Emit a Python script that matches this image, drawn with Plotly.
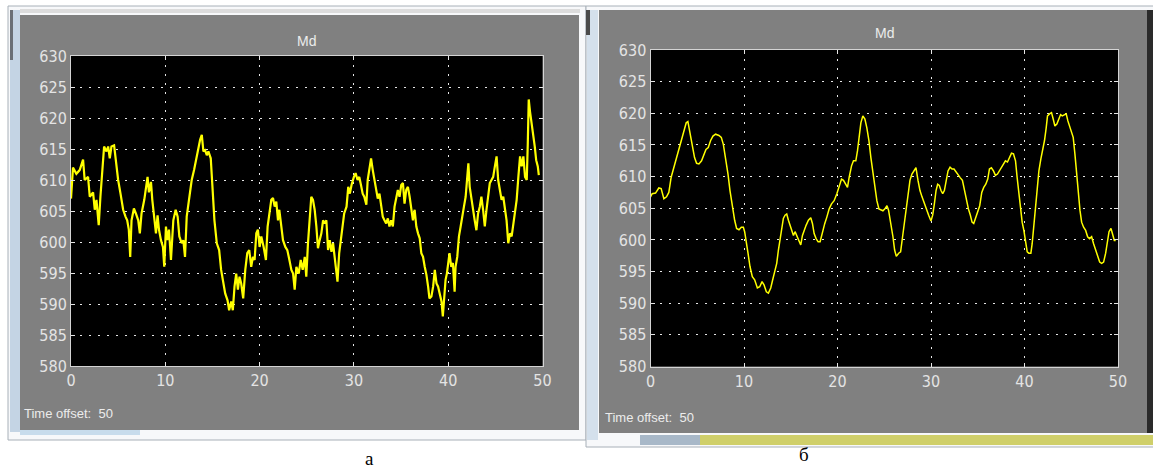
import plotly.graph_objects as go

W, H = 1153, 470

# ---------------- data ----------------
a_time = [
    0, 0.21, 0.57, 0.92, 1.28, 1.45, 1.81, 1.99, 2.34, 2.52,
    2.70, 2.94, 3.12, 3.33, 3.51, 3.76, 3.94, 4.11, 4.29, 4.57,
    4.75, 5.0, 5.25, 5.53, 5.78, 5.96, 6.13, 6.28, 6.42, 6.67,
    6.88, 7.13, 7.30, 7.48, 7.77, 8.01, 8.12, 8.26, 8.48, 8.62,
    8.83, 9.01, 9.18, 9.33, 9.54, 9.75, 9.89, 10.07, 10.21, 10.39,
    10.60, 10.85, 11.10, 11.31, 11.49, 11.74, 11.91, 12.09, 12.27, 12.52,
    12.80, 13.05, 13.26, 13.51, 13.69, 13.87, 14.04, 14.22, 14.40, 14.57,
    14.82, 15.0, 15.21, 15.46, 15.71, 15.92, 16.17, 16.35, 16.60, 16.77,
    16.99, 17.16, 17.34, 17.52, 17.70, 17.87, 18.05, 18.26, 18.48, 18.69,
    18.90, 19.11, 19.29, 19.47, 19.65, 19.82, 20.0, 20.18, 20.43, 20.67,
    20.85, 21.06, 21.24, 21.42, 21.60, 21.77, 21.95, 22.09, 22.27, 22.48,
    22.73, 22.94, 23.16, 23.37, 23.55, 23.72, 23.90, 24.15, 24.36, 24.57,
    24.79, 24.95, 25.13, 25.30, 25.48, 25.66, 25.84, 26.02, 26.19, 26.37,
    26.55, 26.73, 26.90, 27.08, 27.26, 27.44, 27.62, 27.79, 27.97, 28.15,
    28.26, 28.44, 28.61, 28.76, 28.97, 29.22, 29.40, 29.57, 29.75, 30.0,
    30.18, 30.39, 30.57, 30.75, 30.93, 31.10, 31.32, 31.46, 31.64, 31.82,
    32.0, 32.17, 32.35, 32.53, 32.71, 32.88, 33.06, 33.24, 33.42, 33.60,
    33.77, 33.95, 34.13, 34.31, 34.49, 34.66, 34.84, 35.02, 35.20, 35.37,
    35.55, 35.73, 35.91, 36.09, 36.26, 36.44, 36.62, 36.80, 36.98, 37.15,
    37.33, 37.51, 37.69, 37.87, 38.01, 38.22, 38.40, 38.58, 38.76, 38.93,
    39.11, 39.29, 39.43, 39.57, 39.72, 39.86, 40.0, 40.14, 40.32, 40.50,
    40.68, 40.78, 40.96, 41.14, 41.32, 41.50, 41.67, 41.85, 42.03, 42.14,
    42.28, 42.46, 42.63, 42.81, 42.99, 43.17, 43.35, 43.52, 43.70, 43.88,
    44.06, 44.24, 44.41, 44.59, 44.77, 44.95, 45.13, 45.30, 45.48, 45.66,
    45.84, 46.02, 46.19, 46.37, 46.55, 46.73, 46.90, 47.08, 47.26, 47.44,
    47.62, 47.79, 47.97, 48.15, 48.33, 48.44, 48.54, 48.68, 48.83, 49.0,
    49.18, 49.33, 49.50, 49.61,
]
a_value = [
    607, 612, 611, 611.6, 613.3, 610, 610.5, 607.3, 608, 605.2,
    606.8, 602.7, 607.3, 611.6, 615.4, 614.6, 615.4, 613.5, 615.4, 615.6,
    613, 610, 607.8, 605.2, 604.1, 603.5, 602, 597.6, 603.5, 605.4,
    604.6, 603.5, 601.4, 604.6, 606.8, 610, 610.5, 608, 609.7, 606.8,
    603.5, 601.4, 604.3, 602, 600.3, 599.2, 596, 602.5, 600.3, 602,
    597.1, 603.5, 605.2, 604.1, 600.9, 599.8, 600.3, 597.6, 604.1, 606.8,
    610, 611.6, 613.2, 615.4, 616.5, 617.3, 614.6, 614.8, 614, 614.6,
    613.5, 608.9, 603.5, 599.8, 598.7, 595.5, 593.3, 591.7, 590.6, 589,
    590.4, 589, 592.8, 594.9, 592.3, 594.4, 593.3, 590.9, 595.5, 598.2,
    598.7, 596, 597.6, 597.1, 601.4, 602, 599.2, 600.9, 599.2, 597.1,
    602.5, 604.6, 606.8, 607.1, 605.7, 606.5, 603.5, 605.2, 602.5, 600.3,
    599.2, 598.7, 597.1, 595.5, 594.9, 592.3, 596, 594.9, 597.1, 595.5,
    597.6, 594.4, 599.8, 603.5, 607.3, 606.8, 605.2, 602.5, 599, 600.3,
    601.4, 603.5, 603, 603.5, 598.7, 600.3, 598.4, 599.8, 597.6, 594.9,
    593.6, 598.2, 600.3, 601.4, 604.6, 605.7, 608.9, 607.8, 609.2, 610.5,
    611.1, 610, 610.5, 609.2, 607.8, 607.3, 606, 610, 611.6, 613.5,
    611.6, 610, 608.9, 607, 607.8, 605.7, 604.1, 603.5, 603, 603.8,
    602.5, 603.5, 602.5, 605.7, 607.3, 608.4, 607.3, 609.2, 609.5, 606.2,
    608.4, 608.9, 607.3, 605.2, 603.5, 605.2, 602.5, 601.4, 600.6, 598.2,
    597.6, 596, 594.7, 592.8, 590.9, 591.2, 592.8, 595.5, 593.3, 592.8,
    591.7, 590.4, 588, 590.6, 593.9, 594.9, 597.1, 598.2, 596, 596.6,
    592, 596, 597.6, 600.9, 602.5, 604.6, 605.7, 607.3, 610, 612.7,
    608.9, 606.8, 605.7, 603.5, 601.9, 604.6, 605.7, 607.3, 605.2, 602.5,
    605.2, 607.3, 609.5, 610, 610.5, 612.2, 613.8, 610, 608.4, 606.8,
    607.3, 605.2, 603.5, 599.8, 601.4, 600.9, 603, 605.2, 606.8, 610.5,
    613.8, 612.2, 613.8, 610.5, 610, 615.9, 623, 621, 619.5, 617.5,
    615.4, 613.2, 612.2, 610.8,
]

b_time = [
    0, 0.18, 0.54, 0.89, 1.14, 1.43, 1.71, 1.96, 2.21, 2.5,
    2.79, 3.04, 3.29, 3.57, 3.82, 4.0, 4.18, 4.46, 4.71, 4.93,
    5.18, 5.46, 5.71, 5.93, 6.18, 6.43, 6.68, 6.96, 7.32, 7.57,
    7.79, 8.04, 8.29, 8.5, 8.75, 9.0, 9.21, 9.46, 9.71, 9.93,
    10.07, 10.25, 10.43, 10.64, 10.89, 11.14, 11.43, 11.68, 11.93, 12.14,
    12.39, 12.61, 12.86, 13.07, 13.29, 13.5, 13.68, 13.82, 14.0, 14.21,
    14.39, 14.57, 14.75, 14.93, 15.11, 15.29, 15.46, 15.64, 15.82, 16.07,
    16.25, 16.43, 16.64, 16.89, 17.14, 17.32, 17.5, 17.71, 17.93, 18.14,
    18.39, 18.64, 18.86, 19.11, 19.36, 19.64, 19.93, 20.18, 20.43, 20.64,
    20.89, 21.07, 21.25, 21.5, 21.71, 21.96, 22.14, 22.32, 22.5, 22.71,
    22.93, 23.14, 23.36, 23.57, 23.79, 24.0, 24.21, 24.43, 24.64, 24.86,
    25.07, 25.29, 25.46, 25.71, 25.93, 26.11, 26.29, 26.54, 26.75, 26.96,
    27.14, 27.32, 27.54, 27.75, 27.96, 28.18, 28.39, 28.61, 28.82, 29.04,
    29.29, 29.5, 29.75, 30.0, 30.18, 30.36, 30.54, 30.71, 30.89, 31.07,
    31.25, 31.43, 31.64, 31.82, 32.04, 32.25, 32.46, 32.68, 32.89, 33.14,
    33.36, 33.57, 33.79, 34.0, 34.21, 34.39, 34.57, 34.79, 35.0, 35.21,
    35.43, 35.64, 35.86, 36.07, 36.25, 36.46, 36.68, 36.89, 37.11, 37.32,
    37.54, 37.75, 37.96, 38.18, 38.39, 38.61, 38.82, 39.04, 39.21, 39.39,
    39.57, 39.75, 39.93, 40.11, 40.29, 40.46, 40.68, 40.82, 41.0, 41.18,
    41.36, 41.54, 41.75, 41.96, 42.14, 42.32, 42.46, 42.68, 42.89, 43.07,
    43.25, 43.46, 43.68, 43.86, 44.04, 44.25, 44.46, 44.64, 44.86, 45.04,
    45.21, 45.39, 45.57, 45.75, 45.93, 46.11, 46.32, 46.54, 46.75, 46.96,
    47.18, 47.39, 47.61, 47.82, 48.04, 48.25, 48.46, 48.68, 48.86, 49.04,
    49.25, 49.39, 49.61, 49.75,
]
b_value = [
    606.8, 607.3, 607.4, 608.2, 608.1, 606.5, 606.8, 607.5, 609.9, 611.5,
    613, 614.3, 615.7, 617.2, 618.5, 618.7, 617.2, 614.9, 613, 612.1,
    612, 612.5, 613.6, 614.3, 614.6, 615.7, 616.4, 616.7, 616.5, 616.2,
    615.1, 613, 610.4, 607.8, 605.2, 603.1, 601.8, 601.6, 602, 602,
    601.3, 599.9, 597.9, 595.8, 594.2, 593.7, 592.4, 592.6, 593.4, 592.9,
    591.8, 591.6, 592.4, 593.7, 595.2, 596.3, 598.4, 599.9, 602, 603.4,
    603.9, 604.1, 603.1, 602.3, 601.3, 600.7, 601.3, 600.7, 600.2, 599.2,
    600.7, 601.5, 602.3, 603.1, 603.5, 602.6, 601, 600.2, 599.7, 599.7,
    601.3, 602.6, 603.6, 604.9, 605.7, 606.2, 607.3, 608.6, 609.6, 609.4,
    608.6, 608.3, 609.9, 611.7, 612.5, 612.5, 614.1, 616.7, 618.5, 619.6,
    619.1, 617.7, 615.7, 613, 610.9, 608.6, 606.2, 604.9, 604.7, 604.6,
    604.9, 605.4, 604.7, 602.6, 600.5, 598.4, 597.4, 597.9, 598.1, 600.5,
    602.6, 605.2, 607.8, 609.4, 610.4, 610.9, 611.4, 609.4, 607.8, 606.8,
    605.7, 604.7, 603.9, 603, 603.9, 605.7, 607.8, 608.8, 608.6, 607.8,
    607.3, 607.8, 609.4, 610.9, 611.5, 611.2, 611.2, 610.7, 610.2, 609.8,
    609.4, 607.8, 606.2, 604.9, 603.9, 602.8, 602.6, 603.6, 604.4, 605.4,
    607.5, 608.3, 608.8, 609.6, 611.2, 611.4, 610.9, 610.2, 610.4, 610.9,
    611.5, 612, 612.5, 612.3, 613, 613.7, 613.6, 612.5, 609.9, 607.3,
    605.2, 602.8, 601.5, 599.4, 598.1, 597.9, 597.9, 599.4, 602.6, 605.7,
    608.3, 610.9, 612.8, 614.1, 615.7, 617.7, 619.6, 619.9, 620.1, 619.1,
    618, 618.3, 619.3, 619.8, 619.6, 619.8, 619.9, 618.8, 617.7, 617.2,
    616.2, 613.6, 610.4, 607.3, 604.7, 602.8, 602, 601.5, 600.5, 600.2,
    600.5, 599.4, 598.4, 597.6, 596.5, 596.3, 596.5, 597.9, 599.9, 601.3,
    601.8, 601, 599.9, 599.9,
]

x_ticks = [0, 10, 20, 30, 40, 50]
y_ticks = [580, 585, 590, 595, 600, 605, 610, 615, 620, 625, 630]
panel_title = "Md"
footer_text = "Time offset:\u00a0\u00a050"
panel_labels = ["а", "б"]

assert len(a_time) == len(a_value), (len(a_time), len(a_value))
assert len(b_time) == len(b_value), (len(b_time), len(b_value))


def fx(p):
    return p / W


def fy(p):
    return 1 - p / H


fig = go.Figure()
fig.add_trace(go.Scatter(x=a_time, y=a_value, mode="lines",
                         line=dict(color="#ffff00", width=2.2),
                         xaxis="x", yaxis="y", hoverinfo="skip", showlegend=False))
fig.add_trace(go.Scatter(x=b_time, y=b_value, mode="lines",
                         line=dict(color="#ffff00", width=1.5),
                         xaxis="x2", yaxis="y2", hoverinfo="skip", showlegend=False))

tick_font = dict(family="Liberation Sans Narrow, Arial Narrow, DejaVu Sans Condensed, sans-serif",
                 size=16, color="#e4e4e4")
axis_common = dict(showgrid=True, gridcolor="#e6e6e6", gridwidth=1, griddash="2px,7px",
                   zeroline=False, showline=True, linecolor="#d4d4d4", linewidth=1,
                   mirror="ticks", ticks="inside", ticklen=4, tickcolor="#e6e6e6",
                   tickfont=tick_font, fixedrange=True)

shapes = []


def rect(x0, y0, x1, y1, fill, line=None, lw=0):
    shapes.append(dict(type="rect", xref="paper", yref="paper",
                       x0=fx(x0), x1=fx(x1), y0=fy(y1), y1=fy(y0),
                       fillcolor=fill, line=dict(color=line or fill, width=lw),
                       layer="below"))


# left window frame
rect(8, 6, 586, 440, "#f7f8fa", "#a8b0b8", 1)
rect(20, 9, 580, 13, "#dcdcdc")
rect(10, 10, 20, 432, "#c4d4e4")
rect(10, 10, 13, 60, "#6a6f76")
rect(20, 15, 579, 430, "#808080")
rect(20, 430, 140, 435, "#c8dcec")
# right window frame
rect(586, 6, 1160, 447, "#f7f8fa", "#a8b0b8", 1)
rect(587, 10, 598, 440, "#d4e0ec")
rect(586, 10, 590, 35, "#4a4a4a")
rect(599, 10, 1147, 433, "#808080")
rect(1147, 10, 1153, 433, "#2a2a2a")
rect(640, 435, 700, 445, "#a8b8c8")
rect(700, 435, 1153, 445, "#cfcf6a")

# black plot areas
for xr, yr in (("x domain", "y domain"), ("x2 domain", "y2 domain")):
    shapes.append(dict(type="rect", xref=xr, yref=yr, x0=0, x1=1, y0=0, y1=1,
                       fillcolor="#000000", line=dict(width=0), layer="below"))

annotations = []


def text(x, y, s, size, color, family, xanchor="center"):
    annotations.append(dict(x=fx(x), y=fy(y), xref="paper", yref="paper", text=s,
                            showarrow=False, xanchor=xanchor, yanchor="middle",
                            font=dict(size=size, color=color, family=family)))


text(306, 41, panel_title, 14, "#ececec", "Liberation Sans, Arial, sans-serif")
text(884, 33, panel_title, 14, "#ececec", "Liberation Sans, Arial, sans-serif")
text(22, 413, footer_text, 13, "#ececec", "Liberation Sans, Arial, sans-serif", "left")
text(603, 417, footer_text, 13, "#ececec", "Liberation Sans, Arial, sans-serif", "left")
text(369, 458, panel_labels[0], 19, "#000000", "Liberation Serif, Times New Roman, serif")
text(804, 454, panel_labels[1], 19, "#000000", "Liberation Serif, Times New Roman, serif")

fig.update_layout(
    width=W, height=H,
    margin=dict(l=0, r=0, t=0, b=0, pad=0, autoexpand=False),
    paper_bgcolor="#ffffff",
    plot_bgcolor="#000000",
    showlegend=False,
    xaxis=dict(domain=[fx(71), fx(542.5)], range=[0, 50], tickvals=x_ticks,
               anchor="y", automargin=False, **axis_common),
    yaxis=dict(domain=[fy(366), fy(56)], range=[580, 630], tickvals=y_ticks,
               anchor="x", automargin=False, **axis_common),
    xaxis2=dict(domain=[fx(650.5), fx(1118)], range=[0, 50], tickvals=x_ticks,
                anchor="y2", automargin=False, **axis_common),
    yaxis2=dict(domain=[fy(366.5), fy(50)], range=[580, 630], tickvals=y_ticks,
                anchor="x2", automargin=False, **axis_common),
    shapes=shapes,
    annotations=annotations,
)

page_css = ("document.documentElement.style.margin='0';"
            "document.documentElement.style.overflow='hidden';"
            "document.body.style.margin='0';"
            "document.body.style.padding='0';"
            "document.body.style.overflow='hidden';")

fig.write_html("out.html", post_script=page_css, config={"displayModeBar": False})
